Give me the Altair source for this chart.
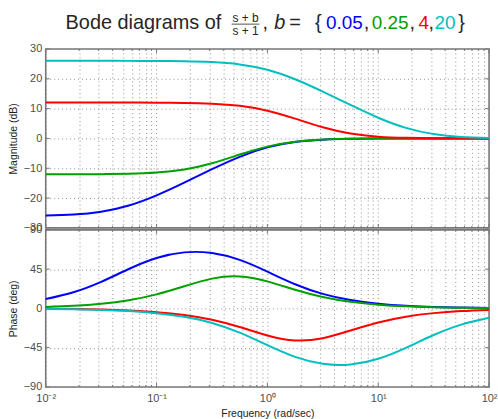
import altair as alt
import pandas as pd

# Frequencies (rad/sec), quarter-decade steps from 1e-2 to 1e2
freq = [0.01, 0.01778, 0.03162, 0.05623, 0.1, 0.1778, 0.3162, 0.5623,
        1.0, 1.778, 3.162, 5.623, 10.0, 17.78, 31.62, 56.23, 100.0]

b_labels = ["0.05", "0.25", "4", "20"]
colors = ["#0000ff", "#00a000", "#ff0000", "#00bfbf"]

# Magnitude (dB) of (s+b)/(s+1) for each b
mag_b005 = [-25.85, -25.50, -24.56, -22.48, -19.07, -14.81, -10.31, -6.16,
            -3.00, -1.19, -0.41, -0.13, -0.04, -0.01, 0.0, 0.0, 0.0]
mag_b025 = [-12.03, -12.02, -11.98, -11.84, -11.44, -10.40, -8.30, -5.41,
            -2.75, -1.11, -0.39, -0.12, -0.04, -0.01, 0.0, 0.0, 0.0]
mag_b4 = [12.04, 12.04, 12.04, 12.03, 12.00, 11.92, 11.65, 10.93,
          9.29, 6.63, 3.74, 1.65, 0.60, 0.20, 0.07, 0.02, 0.01]
mag_b20 = [26.02, 26.02, 26.02, 26.01, 25.98, 25.89, 25.61, 24.83,
           23.02, 19.86, 15.71, 11.22, 6.95, 3.54, 1.46, 0.52, 0.17]

# Phase (deg)
ph_b005 = [10.74, 18.56, 30.50, 45.14, 57.72, 64.22, 63.47, 55.57,
           42.14, 27.74, 16.64, 9.58, 5.43, 3.06, 1.72, 0.97, 0.54]
ph_b025 = [1.72, 3.05, 5.40, 9.46, 16.09, 25.34, 34.12, 36.68,
           30.96, 21.35, 13.03, 7.54, 4.28, 2.41, 1.36, 0.76, 0.43]
ph_b4 = [-0.43, -0.76, -1.36, -2.41, -4.28, -7.54, -13.03, -21.35,
         -30.96, -36.68, -34.12, -25.34, -16.09, -9.46, -5.40, -3.05, -1.72]
ph_b20 = [-0.54, -0.97, -1.72, -3.06, -5.42, -9.58, -16.64, -27.74,
          -42.14, -55.57, -63.47, -64.22, -57.72, -45.14, -30.50, -18.56, -10.74]

mag_ticks = [-30, -20, -10, 0, 10, 20, 30]
phase_ticks = [-90, -45, 0, 45, 90]
x_major = [0.01, 0.1, 1.0, 10.0, 100.0]
x_minor = [m * 10.0 ** e for e in range(-2, 2) for m in range(2, 10)]

mags = [mag_b005, mag_b025, mag_b4, mag_b20]
phases = [ph_b005, ph_b025, ph_b4, ph_b20]

rows = []
for lab, m, p in zip(b_labels, mags, phases):
    for f, mv, pv in zip(freq, m, p):
        rows.append({"freq": f, "mag": mv, "phase": pv, "b": lab})
df = pd.DataFrame(rows)

W, H_MAG, H_PH = 446, 180, 158
FONT = "Liberation Sans"
LABEL_COLOR = "#4d4d4d"
GRID_COLOR = "#8f8f8f"
FRAME = "#777777"

grid_vals = sorted(x_major + x_minor)

dec = "round(log(datum.value)/LN10)"
label_expr = (
    f"abs(log(datum.value)/LN10 - {dec}) > 0.001 ? '' : "
    f"{dec} == -2 ? '10⁻²' : {dec} == -1 ? '10⁻¹' : {dec} == 0 ? '10⁰' : "
    f"{dec} == 1 ? '10¹' : '10²'"
)

x_scale = alt.Scale(type="log", domain=[0.01, 100], nice=False)
mag_yscale = alt.Scale(domain=[-30, 30], nice=False, zero=False)
ph_yscale = alt.Scale(domain=[-90, 90], nice=False, zero=False)

y_axis_common = dict(
    grid=True, gridDash=[1, 3], gridColor=GRID_COLOR, gridWidth=1,
    domain=False, ticks=False, tickSize=0, labelPadding=4,
    labelFont=FONT, labelFontSize=11, labelColor=LABEL_COLOR,
    titleFont=FONT, titleFontSize=10.5, titleFontWeight="normal",
    titleColor="#222222", titlePadding=5,
)

mag_xaxis = alt.Axis(values=grid_vals, labels=False, ticks=False, domain=False,
                     grid=True, gridDash=[1, 3], gridColor=GRID_COLOR, title=None)
ph_xaxis = alt.Axis(values=grid_vals, labelExpr=label_expr, ticks=False, tickSize=0,
                    domain=False, grid=True, gridDash=[1, 3], gridColor=GRID_COLOR,
                    labelFont=FONT, labelFontSize=11, labelColor=LABEL_COLOR,
                    labelPadding=6, labelOverlap=False, labelFlush=False,
                    title="Frequency  (rad/sec)", titleFont=FONT, titleFontSize=10.5,
                    titleFontWeight="normal", titleColor="#222222", titlePadding=5)

mag_yaxis = alt.Axis(values=mag_ticks, title="Magnitude (dB)", **y_axis_common)
ph_yaxis = alt.Axis(values=phase_ticks, title="Phase (deg)", **y_axis_common)


def panel(ycol, yscale, xaxis, yaxis, yticks, height):
    layers = []
    # inward tick marks on all four edges
    for vals, ln in ((x_major, 4), (x_minor, 2)):
        tdf = pd.DataFrame({"freq": vals})
        for y0, y1 in ((height, height - ln), (0, ln)):
            layers.append(
                alt.Chart(tdf)
                .mark_rule(color=FRAME, strokeWidth=1)
                .encode(x=alt.X("freq:Q", scale=x_scale, axis=xaxis),
                        y=alt.value(y0), y2=alt.value(y1))
            )
    ydf = pd.DataFrame({ycol: yticks})
    for x0, x1 in ((0, 4), (W - 4, W)):
        layers.append(
            alt.Chart(ydf)
            .mark_rule(color=FRAME, strokeWidth=1)
            .encode(y=alt.Y(f"{ycol}:Q", scale=yscale, axis=yaxis),
                    x=alt.value(x0), x2=alt.value(x1))
        )
    for lab, col in zip(b_labels, colors):
        layers.append(
            alt.Chart(df)
            .transform_filter(alt.datum.b == lab)
            .mark_line(color=col, strokeWidth=2, interpolate="natural")
            .encode(
                x=alt.X("freq:Q", scale=x_scale, axis=xaxis),
                y=alt.Y(f"{ycol}:Q", scale=yscale, axis=yaxis),
            )
        )
    return layers


def note(text, x, y, size=20, color="#262626", align="left", style="normal"):
    return (
        alt.Chart(alt.Data(values=[{}]))
        .mark_text(font=FONT, fontSize=size, color=color, align=align,
                   baseline="alphabetic", fontStyle=style)
        .encode(x=alt.value(x), y=alt.value(y), text=alt.value(text))
    )


bar = (
    alt.Chart(alt.Data(values=[{}]))
    .mark_rule(color="#262626", strokeWidth=0.8)
    .encode(x=alt.value(187), x2=alt.value(215), y=alt.value(-25))
)

title_layers = [
    note("Bode diagrams of", 20, -20),
    note("s + b", 201, -27, size=12, align="center"),
    bar,
    note("s + 1", 201, -14, size=12, align="center"),
    note(",", 218, -20),
    note("b", 230, -20, style="italic"),
    note("=", 245, -20),
    note("{", 271, -20),
    note("0.05", 282, -20, size=19, color=colors[0]),
    note(",", 320, -20),
    note("0.25", 328, -20, size=19, color=colors[1]),
    note(",", 366, -20),
    note("4", 375, -20, size=19, color=colors[2]),
    note(",", 385, -20),
    note("20", 391, -20, size=19, color=colors[3]),
    note("}", 415, -20),
]

mag_chart = alt.layer(
    *panel("mag", mag_yscale, mag_xaxis, mag_yaxis, mag_ticks, H_MAG),
    *title_layers,
).properties(width=W, height=H_MAG)

ph_chart = alt.layer(
    *panel("phase", ph_yscale, ph_xaxis, ph_yaxis, phase_ticks, H_PH),
).properties(width=W, height=H_PH)

chart = (
    alt.vconcat(mag_chart, ph_chart, spacing=2, bounds="flush")
    .properties(padding={"left": 7, "top": 10, "right": 0, "bottom": 0})
    .configure_view(stroke=FRAME, strokeWidth=1.6)
)

chart.save("out.html", embed_options={"renderer": "svg", "actions": False})
